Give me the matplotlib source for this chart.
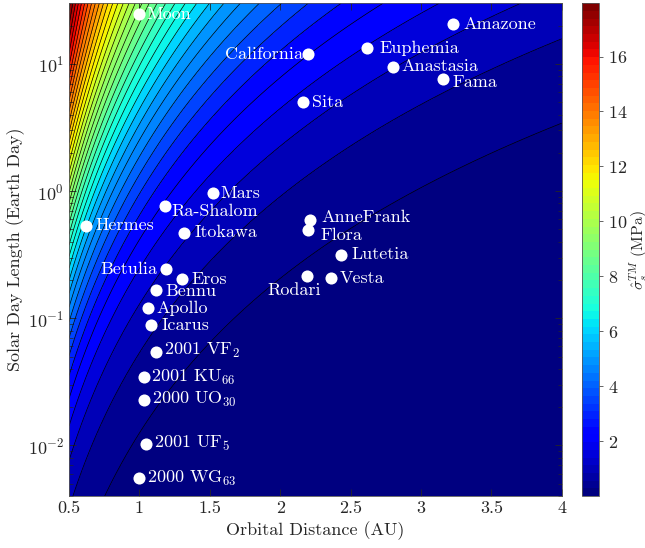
import numpy as np
import matplotlib
matplotlib.use("Agg")
import matplotlib.pyplot as plt
from matplotlib.colors import Normalize
from matplotlib.cm import ScalarMappable
from matplotlib.ticker import LogLocator, NullFormatter

plt.rcParams['font.family'] = 'serif'
plt.rcParams['font.serif'] = ['cmr10']
plt.rcParams['mathtext.fontset'] = 'cm'
plt.rcParams['axes.formatter.use_mathtext'] = True
plt.rcParams['font.size'] = 13

# bodies: orbital distance (AU) and solar day length (Earth days)
names = ['Moon', 'California', 'Sita', 'Mars', 'Ra-Shalom', 'Hermes', 'Itokawa',
         'Betulia', 'Eros', 'Bennu', 'Apollo', 'Icarus', '2001 VF$_2$',
         '2001 KU$_{66}$', '2000 UO$_{30}$', '2001 UF$_5$', '2000 WG$_{63}$',
         'Amazone', 'Euphemia', 'Anastasia', 'Fama', 'AnneFrank', 'Flora',
         'Lutetia', 'Rodari', 'Vesta']
dist = [1.00, 2.20, 2.16, 1.52, 1.18, 0.62, 1.32,
        1.19, 1.30, 1.12, 1.06, 1.08, 1.12,
        1.03, 1.03, 1.05, 1.00,
        3.23, 2.62, 2.80, 3.16, 2.21, 2.20,
        2.43, 2.19, 2.36]
day = [24.7, 12.0, 5.0, 0.96, 0.765, 0.535, 0.472,
       0.243, 0.204, 0.167, 0.120, 0.0887, 0.0547,
       0.0344, 0.0228, 0.0103, 0.00553,
       20.5, 13.3, 9.5, 7.6, 0.594, 0.493,
       0.317, 0.213, 0.206]

# label offsets from the dot in pixels (dx, dy) and horizontal alignment
label_dx = [7, -5, 9, 8, 7, 10, 10,
            -9, 10, 9, 9, 11, 8,
            7, 8, 8, 8,
            10, 12, 9, 9, 12, 12,
            11, -13, 9]
label_dy = [0, 0, 0, 0, -5, 0, 0,
            0, 0, -1, 0, 0, 1,
            0, 0, 0, 0,
            0, 0, 0, -3, 3, -5,
            0, -14, 0]
label_ha = ['left', 'right', 'left', 'left', 'left', 'left', 'left',
            'right', 'left', 'left', 'left', 'left', 'left',
            'left', 'left', 'left', 'left',
            'left', 'left', 'left', 'left', 'left', 'left',
            'left', 'center', 'left']

# thermal stress model: sigma = S0 r^-1/2 / (1 + theta), theta = k r^3/2 P^-1/2
stress_scale = 15.7   # MPa
theta_scale = 3.4

r = np.linspace(0.5, 4, 400)
P = np.logspace(np.log10(0.004), np.log10(30), 400)
R, PP = np.meshgrid(r, P)
Z = stress_scale * R ** -0.5 / (1 + theta_scale * R ** 1.5 * PP ** -0.5)

cmap = plt.get_cmap('jet', 64)
norm = Normalize(0, 17.94)
levels = np.arange(0, 19, 0.5)
fill_colors = [cmap(norm(v)) for v in levels[:-1]]

fig = plt.figure(figsize=(6.45, 5.48), dpi=100)
ax = fig.add_axes([0.107, 0.0949, 0.7639, 0.8991])
ax.contourf(R, PP, Z, levels=levels, colors=fill_colors)
ax.contour(R, PP, Z, levels=levels[1:], colors='k', linewidths=0.5)

ax.plot(dist, day, 'o', color='white', ms=8.7, mec='none', zorder=5)
for i, name in enumerate(names):
    ax.annotate(name, (dist[i], day[i]), xytext=(label_dx[i], label_dy[i]),
                textcoords='offset pixels', ha=label_ha[i], va='center',
                color='white', fontsize=13, zorder=6)

ax.set_yscale('log')
ax.set_xlim(0.5, 4)
ax.set_ylim(0.004, 30)
ax.set_xticks([0.5, 1, 1.5, 2, 2.5, 3, 3.5, 4])
ax.set_xticklabels(['0.5', '1', '1.5', '2', '2.5', '3', '3.5', '4'])
ax.yaxis.set_major_locator(LogLocator(base=10, numticks=10))
ax.yaxis.set_minor_locator(LogLocator(base=10, subs=np.arange(2, 10), numticks=20))
ax.yaxis.set_minor_formatter(NullFormatter())
ax.tick_params(which='both', direction='in', top=True, right=True, colors='#262626')
ax.tick_params(which='major', length=5, width=0.6)
ax.tick_params(which='minor', length=3, width=0.5)
for s in ax.spines.values():
    s.set_color('#555555')
    s.set_linewidth(0.6)
ax.set_xlabel('Orbital Distance (AU)', color='#262626', labelpad=4)
ax.set_ylabel('Solar Day Length (Earth Day)', color='#262626', labelpad=2)

cax = fig.add_axes([0.9019, 0.0949, 0.0273, 0.8991])
cb = fig.colorbar(ScalarMappable(norm=norm, cmap=cmap), cax=cax)
cb.set_ticks([2, 4, 6, 8, 10, 12, 14, 16])
cb.ax.tick_params(direction='out', length=3, width=0.5, colors='#262626')
cb.outline.set_edgecolor('#555555')
cb.outline.set_linewidth(0.6)
cb.set_label(r'$\hat{\sigma}_s^{TM}$ (MPa)', color='#262626', fontsize=11.5, labelpad=0)

fig.savefig('out.png', dpi=100)
